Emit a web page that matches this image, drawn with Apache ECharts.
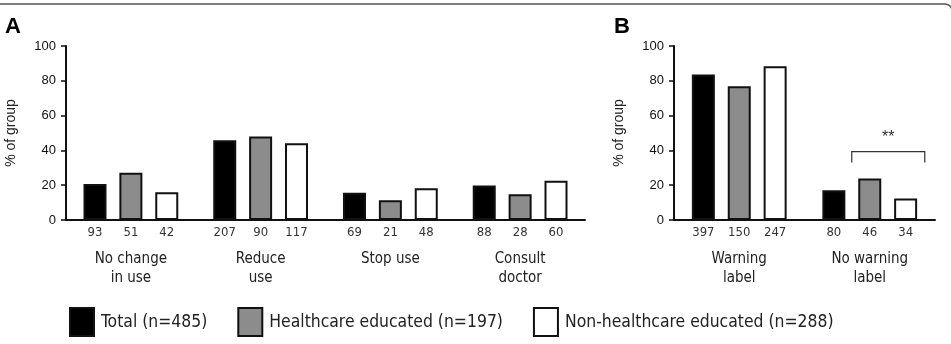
<!DOCTYPE html>
<html>
<head>
<meta charset="UTF-8">
<script src="https://cdn.jsdelivr.net/npm/echarts@6/dist/echarts.min.js"></script>
<style>
  html, body { margin: 0; padding: 0; background: #fff; }
  #main { width: 951px; height: 344px; }
</style>
</head>
<body>
<div id="main"></div>
<script>
// panel A - response to information
var catsA = ['No change\nin use', 'Reduce\nuse', 'Stop use', 'Consult\ndoctor'];
var totalA = [20.7, 45.9, 15.6, 19.8];
var healthA = [27.1, 48.0, 11.3, 14.8];
var nonHealthA = [15.9, 44.1, 18.2, 22.6];
var nTotalA = [93, 207, 69, 88];
var nHealthA = [51, 90, 21, 28];
var nNonHealthA = [42, 117, 48, 60];

// panel B - warning label
var catsB = ['Warning\nlabel', 'No warning\nlabel'];
var totalB = [83.6, 17.1];
var healthB = [76.8, 23.8];
var nonHealthB = [88.4, 12.3];
var nTotalB = [397, 80];
var nHealthB = [150, 46];
var nNonHealthB = [247, 34];

var yTicks = [0, 20, 40, 60, 80, 100];

var groupNames = ['Total (n=485)', 'Healthcare educated (n=197)', 'Non-healthcare educated (n=288)'];
var colors = ['#000000', '#8c8c8c', '#ffffff'];

var narrow = "'DejaVu Sans Condensed', 'Liberation Sans', sans-serif";

function yAxis(idx) {
    return {
        type: 'value', gridIndex: idx, min: 0, max: 100, interval: 20,
        name: '% of group', nameLocation: 'middle', nameGap: 48,
        nameTextStyle: { fontFamily: 'Liberation Sans', fontSize: 14, color: '#222' },
        axisLine: { show: true, lineStyle: { color: '#111', width: 2 } },
        axisTick: { show: true, length: 5, lineStyle: { color: '#111', width: 1.5 } },
        axisLabel: { margin: 10, fontFamily: 'Liberation Sans', fontSize: 13, color: '#111',
            formatter: function (v) { return yTicks.indexOf(v) >= 0 ? String(v) : ''; } },
        splitLine: { show: false }
    };
}

function xAxis(idx, cats) {
    return {
        type: 'category', gridIndex: idx, data: cats,
        axisLine: { lineStyle: { color: '#111', width: 2 } },
        axisTick: { show: false },
        axisLabel: { margin: 30, fontFamily: narrow, fontSize: 15, lineHeight: 19, color: '#222' }
    };
}

function bars(name, idx, vals, counts, color) {
    return {
        name: name, type: 'bar', xAxisIndex: idx, yAxisIndex: idx,
        data: vals, barWidth: 23, barGap: '56%',
        itemStyle: { color: color, borderColor: '#111', borderWidth: 2 },
        label: {
            show: true, position: 'bottom', distance: 6,
            fontFamily: narrow, fontSize: 13, color: '#333',
            formatter: function (p) { return String(counts[p.dataIndex]); }
        },
        silent: true, animation: false
    };
}

var chart = echarts.init(document.getElementById('main'));
chart.setOption({
    animation: false,
    grid: [
        { left: 66, top: 46, width: 519, height: 174, outerBoundsMode: 'none' },
        { left: 674, top: 46, width: 261, height: 174, outerBoundsMode: 'none' }
    ],
    xAxis: [xAxis(0, catsA), xAxis(1, catsB)],
    yAxis: [yAxis(0), yAxis(1)],
    legend: {
        left: 64, top: 302, icon: 'rect', itemWidth: 24, itemHeight: 28, itemGap: 30,
        selectedMode: false,
        data: groupNames,
        itemStyle: { borderColor: '#111', borderWidth: 2 },
        textStyle: { fontFamily: narrow, fontSize: 17.4, color: '#222', padding: [0, 0, 0, 2] }
    },
    series: [
        bars(groupNames[0], 0, totalA, nTotalA, colors[0]),
        bars(groupNames[1], 0, healthA, nHealthA, colors[1]),
        bars(groupNames[2], 0, nonHealthA, nNonHealthA, colors[2]),
        bars(groupNames[0], 1, totalB, nTotalB, colors[0]),
        bars(groupNames[1], 1, healthB, nHealthB, colors[1]),
        bars(groupNames[2], 1, nonHealthB, nNonHealthB, colors[2])
    ]
});

// significance bracket over "No warning label"
var c = chart.convertToPixel({ xAxisIndex: 1, yAxisIndex: 1 }, [1, 39.3]);
var low = chart.convertToPixel({ xAxisIndex: 1, yAxisIndex: 1 }, [1, 33]);
var x0 = c[0] - 18, x1 = c[0] + 55;

chart.setOption({
    graphic: [
        { type: 'rect', silent: true, shape: { x: -10, y: 4, width: 962, height: 400, r: 7 },
          style: { fill: 'none', stroke: '#555', lineWidth: 1.5 } },
        { type: 'text', left: 5, top: 16, style: { text: 'A', font: 'bold 22px Liberation Sans', fill: '#000' } },
        { type: 'text', left: 614, top: 16, style: { text: 'B', font: 'bold 22px Liberation Sans', fill: '#000' } },
        { type: 'polyline', silent: true,
          shape: { points: [[x0, low[1]], [x0, c[1]], [x1, c[1]], [x1, low[1]]] },
          style: { stroke: '#333', lineWidth: 1.2, fill: 'none' } },
        { type: 'text', x: (x0 + x1) / 2, y: c[1] - 14,
          style: { text: '**', font: '16px Liberation Sans', fill: '#333', align: 'center', verticalAlign: 'middle' } }
    ]
});
</script>
</body>
</html>
